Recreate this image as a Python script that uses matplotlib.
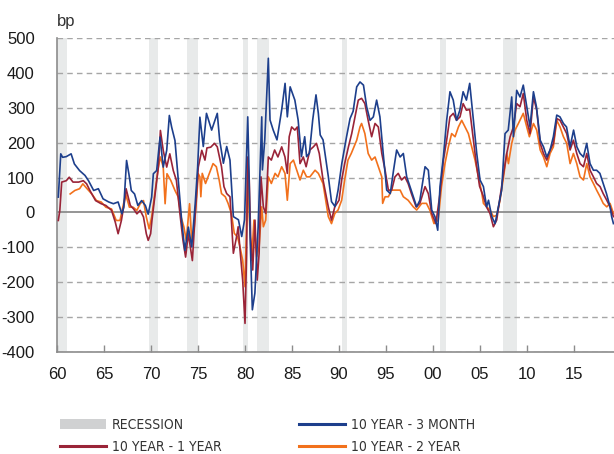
import matplotlib
matplotlib.use("Agg")
import matplotlib.pyplot as plt
from matplotlib.lines import Line2D
from matplotlib.patches import Patch
from matplotlib import font_manager

## Data (bp)

yrs_3m = [1960.14, 1960.4, 1960.6, 1960.99, 1961.5, 1961.85, 1962.4, 1962.98, 1963.35, 1963.9,
          1964.4, 1964.9, 1965.5, 1966.0, 1966.5, 1966.9, 1967.1, 1967.4, 1967.65, 1967.9,
          1968.25, 1968.6, 1969.0, 1969.4, 1969.7, 1970.07, 1970.25, 1970.6, 1970.96, 1971.3,
          1971.67, 1971.95, 1972.2, 1972.55, 1972.9, 1973.26, 1973.6, 1973.97, 1974.33, 1974.7,
          1974.96, 1975.2, 1975.56, 1975.9, 1976.45, 1977.05, 1977.3, 1977.7, 1978.05, 1978.4,
          1978.76, 1979.3, 1979.65, 1979.95, 1980.29, 1980.4, 1980.55, 1980.78, 1981.05, 1981.4,
          1981.78, 1981.85, 1982.1, 1982.48, 1982.66, 1983.0, 1983.4, 1983.9, 1984.26, 1984.5,
          1984.8, 1985.3, 1985.65, 1986.0, 1986.35, 1986.55, 1986.85, 1987.2, 1987.55, 1987.8,
          1988.0, 1988.3, 1988.86, 1989.2, 1989.57, 1989.9, 1990.3, 1990.8, 1991.17, 1991.5,
          1991.88, 1992.23, 1992.6, 1992.94, 1993.3, 1993.65, 1994.0, 1994.35, 1994.7, 1995.07,
          1995.45, 1995.8, 1996.13, 1996.5, 1996.84, 1997.2, 1997.55, 1997.9, 1998.26, 1998.6,
          1999.15, 1999.5, 1999.86, 2000.2, 2000.5, 2000.74, 2001.1, 2001.45, 2001.8, 2002.15,
          2002.5, 2002.85, 2003.2, 2003.55, 2003.9, 2004.3, 2004.65, 2005.0, 2005.36, 2005.7,
          2005.9, 2006.25, 2006.6, 2006.95, 2007.3, 2007.66, 2008.0, 2008.37, 2008.55, 2008.9,
          2009.25, 2009.6, 2009.97, 2010.32, 2010.68, 2011.0, 2011.4, 2011.75, 2012.1, 2012.45,
          2012.8, 2013.16, 2013.5, 2013.87, 2014.2, 2014.58, 2014.95, 2015.3, 2015.64, 2016.0,
          2016.35, 2016.7, 2017.06, 2017.4, 2017.75, 2018.1, 2018.45, 2018.83, 2019.0, 2019.19]
spr_3m = [44, 168, 158, 160, 168, 139, 120, 106, 91, 63,
          68, 39, 30, 25, 30, -4, 15, 149, 110, 63,
          53, 20, 34, 20, -5, 44, 111, 120, 216, 130,
          178, 278, 244, 206, 92, -23, -109, -42, -99, 25,
          130, 273, 189, 284, 236, 284, 208, 141, 189, 150,
          -12, -21, -69, -21, 274, 150, -80, -279, -231, -41,
          274, 122, 208, 442, 265, 236, 208, 294, 370, 274,
          360, 322, 265, 160, 217, 160, 170, 265, 337, 284,
          222, 208, 103, 31, 17, 64, 141, 217, 269, 290,
          360, 374, 365, 303, 264, 274, 322, 274, 169, 64,
          54, 121, 179, 159, 169, 102, 74, 45, 16, 35,
          131, 121, 7, -12, -51, 74, 159, 264, 346, 322,
          264, 293, 346, 322, 370, 264, 169, 93, 74, 16,
          35, -12, -32, 16, 64, 226, 236, 331, 217, 350,
          331, 365, 303, 245, 346, 303, 207, 188, 159, 179,
          217, 279, 274, 255, 245, 188, 236, 188, 169, 159,
          198, 140, 121, 121, 112, 83, 54, 16, -12, -32]

yrs_1y = [1960.14, 1960.3, 1960.5, 1960.99, 1961.3, 1961.7, 1962.3, 1962.8, 1963.15, 1963.5,
          1964.1, 1964.7, 1965.2, 1965.8, 1966.2, 1966.5, 1966.85, 1967.2, 1967.35, 1967.8,
          1968.15, 1968.5, 1968.85, 1969.2, 1969.5, 1969.7, 1969.96, 1970.1, 1970.4, 1970.78,
          1971.0, 1971.3, 1971.67, 1972.0, 1972.37, 1972.7, 1973.08, 1973.4, 1973.68, 1973.97,
          1974.4, 1974.7, 1975.03, 1975.4, 1975.74, 1975.95, 1976.35, 1976.75, 1977.05, 1977.5,
          1977.76, 1978.05, 1978.4, 1978.76, 1979.1, 1979.27, 1979.5, 1979.75, 1980.0, 1980.17,
          1980.28, 1980.45, 1980.6, 1980.82, 1981.06, 1981.3, 1981.5, 1981.7, 1981.95, 1982.2,
          1982.48, 1982.8, 1983.15, 1983.5, 1983.9, 1984.25, 1984.5, 1984.7, 1984.96, 1985.3,
          1985.56, 1985.85, 1986.2, 1986.5, 1986.9, 1987.27, 1987.6, 1987.9, 1988.3, 1988.86,
          1989.2, 1989.55, 1990.0, 1990.28, 1990.6, 1991.0, 1991.35, 1991.7, 1992.05, 1992.4,
          1992.75, 1993.1, 1993.47, 1993.83, 1994.18, 1994.55, 1994.9, 1995.25, 1995.6, 1995.95,
          1996.3, 1996.65, 1997.0, 1997.35, 1997.7, 1998.2, 1998.6, 1999.15, 1999.5, 1999.86,
          2000.3, 2000.74, 2001.1, 2001.45, 2001.8, 2002.16, 2002.5, 2002.87, 2003.2, 2003.55,
          2003.9, 2004.25, 2004.6, 2004.95, 2005.3, 2005.7, 2006.06, 2006.42, 2006.77, 2007.13,
          2007.5, 2007.84, 2008.2, 2008.55, 2008.9, 2009.25, 2009.6, 2009.97, 2010.32, 2010.68,
          2011.03, 2011.4, 2011.75, 2012.1, 2012.45, 2012.8, 2013.16, 2013.51, 2013.87, 2014.22,
          2014.58, 2014.93, 2015.29, 2015.64, 2016.0, 2016.35, 2016.7, 2017.06, 2017.4, 2017.77,
          2018.1, 2018.48, 2018.83, 2019.19]
spr_1y = [-23, 6, 87, 91, 101, 87, 87, 91, 82, 63,
          34, 25, 20, 6, -28, -61, -23, 34, 68, 20,
          10, -4, 6, -13, -61, -80, -61, -23, 44, 130,
          235, 178, 130, 168, 120, 92, -4, -80, -128, -61,
          -138, -4, 130, 178, 150, 185, 187, 198, 188, 131,
          74, 54, 45, -117, -70, -41, -117, -194, -318, -117,
          159, 93, -70, -165, -22, -194, -117, 102, 16, -3,
          159, 150, 179, 159, 188, 159, 112, 217, 245, 236,
          245, 140, 159, 131, 179, 188, 198, 169, 93, 16,
          -22, 16, 35, 93, 140, 188, 226, 274, 322, 327,
          312, 264, 217, 255, 245, 169, 121, 64, 64, 102,
          112, 93, 102, 83, 54, 16, 26, 74, 54, -3,
          -32, 54, 150, 207, 274, 284, 264, 274, 312, 293,
          295, 217, 140, 75, 50, 15, -3, -41, -22, 45,
          112, 169, 217, 245, 312, 303, 341, 264, 226, 331,
          293, 198, 169, 150, 179, 198, 269, 264, 245, 226,
          179, 207, 169, 140, 131, 169, 121, 102, 83, 74,
          54, 35, 16, -12]

yrs_2y = [1961.4, 1961.9, 1962.4, 1962.75, 1963.2, 1963.7, 1964.2, 1964.7, 1965.2, 1965.8,
          1966.3, 1966.7, 1967.0, 1967.3, 1967.7, 1968.1, 1968.5, 1968.85, 1969.2, 1969.5,
          1969.8, 1970.07, 1970.4, 1970.78, 1971.0, 1971.3, 1971.5, 1971.7, 1972.1, 1972.55,
          1972.9, 1973.2, 1973.5, 1973.75, 1974.1, 1974.33, 1974.6, 1974.86, 1975.03, 1975.2,
          1975.3, 1975.45, 1975.8, 1976.6, 1976.95, 1977.25, 1977.5, 1977.9, 1978.2, 1978.55,
          1978.86, 1979.2, 1979.46, 1979.75, 1980.0, 1980.17, 1980.28, 1980.45, 1980.7, 1980.95,
          1981.24, 1981.5, 1981.77, 1981.95, 1982.2, 1982.48, 1982.8, 1983.2, 1983.5, 1983.9,
          1984.25, 1984.5, 1984.8, 1985.15, 1985.5, 1985.85, 1986.2, 1986.55, 1986.9, 1987.45,
          1987.8, 1988.3, 1988.86, 1989.2, 1989.55, 1989.9, 1990.28, 1990.6, 1990.95, 1991.3,
          1991.88, 1992.23, 1992.4, 1992.75, 1993.1, 1993.47, 1993.83, 1994.18, 1994.55, 1994.64,
          1994.9, 1995.25, 1995.6, 1996.0, 1996.5, 1996.84, 1997.35, 1997.9, 1998.26, 1998.8,
          1999.3, 1999.65, 2000.1, 2000.55, 2000.9, 2001.27, 2001.63, 2001.98, 2002.34, 2002.7,
          2003.05, 2003.4, 2003.76, 2004.1, 2004.47, 2004.85, 2005.2, 2005.36, 2005.7, 2006.06,
          2006.42, 2006.77, 2007.13, 2007.5, 2007.84, 2008.02, 2008.37, 2008.72, 2009.08, 2009.6,
          2009.97, 2010.25, 2010.68, 2011.03, 2011.4, 2011.75, 2012.1, 2012.45, 2012.8, 2013.16,
          2013.51, 2013.87, 2014.22, 2014.58, 2014.93, 2015.29, 2015.64, 2016.0, 2016.35, 2016.7,
          2017.06, 2017.4, 2017.77, 2018.1, 2018.48, 2018.83, 2019.19]
spr_2y = [53, 63, 68, 82, 68, 53, 34, 30, 15, 10,
          -23, -23, 15, 53, 15, 15, 6, 25, 34, -13,
          -47, -13, 53, 130, 159, 130, 25, 111, 92, 63,
          44, -13, -42, -80, 25, -80, -42, 44, 111, 102,
          45, 112, 83, 140, 131, 93, 54, 45, 26, -3,
          -60, -70, -98, -137, -213, -22, 121, -12, -137, -22,
          -127, -98, 16, -41, -22, 102, 83, 112, 102, 131,
          112, 35, 140, 150, 121, 93, 121, 102, 102, 121,
          112, 83, -12, -32, -3, 7, 35, 93, 150, 169,
          207, 245, 255, 226, 169, 150, 159, 131, 102, 26,
          45, 45, 64, 64, 64, 45, 35, 16, 7, 26,
          26, 7, -32, -22, 74, 140, 188, 226, 217, 245,
          264, 245, 226, 190, 150, 100, 54, 26, 16, 7,
          -12, -8, 35, 102, 169, 140, 198, 236, 255, 284,
          245, 217, 255, 236, 179, 159, 131, 169, 188, 264,
          245, 217, 198, 140, 169, 140, 102, 93, 140, 102,
          83, 64, 45, 26, 16, 26, -3]

recessions = [(1960.0, 1961.05), (1969.8, 1970.72), (1973.8, 1975.03), (1979.82, 1980.29),
              (1981.31, 1982.59), (1990.29, 1990.85), (2000.74, 2001.38), (2007.48, 2008.9)]

yticks = list(range(-400, 501, 100))
xticks = [1960, 1965, 1970, 1975, 1980, 1985, 1990, 1995, 2000, 2005, 2010, 2015]
xlabels = ['60', '65', '70', '75', '80', '85', '90', '95', '00', '05', '10', '15']

c_3m = '#1d3f8c'
c_1y = '#9a2438'
c_2y = '#f2711c'
c_rec = '#e8eaea'

plt.rcParams['font.family'] = ['Liberation Sans', 'DejaVu Sans']
plt.rcParams['axes.unicode_minus'] = False

fig = plt.figure(figsize=(6.14, 4.54), dpi=100)
ax = fig.add_axes([57/614, (454-352)/454, (614-57)/614, 314/454])

for a, b in recessions:
    ax.axvspan(a, b, color=c_rec, lw=0, zorder=0)

for y in yticks:
    if y == 0:
        continue
    ax.axhline(y, color='#a6a6a6', lw=1.0, ls=(0, (4, 3)), zorder=1)
ax.axhline(0, color='#8c8c8c', lw=1.3, zorder=1)

ax.plot(yrs_2y, spr_2y, color=c_2y, lw=1.2, zorder=3)
ax.plot(yrs_1y, spr_1y, color=c_1y, lw=1.2, zorder=4)
ax.plot(yrs_3m, spr_3m, color=c_3m, lw=1.2, zorder=5)

ax.set_xlim(1960, 2019.25)
ax.set_ylim(-400, 500)
ax.set_yticks(yticks)
ax.set_xticks(xticks)
ax.set_xticklabels(xlabels)
ax.tick_params(axis='y', length=0, pad=16, labelsize=12, labelcolor='#1a1a1a')
ax.tick_params(axis='x', direction='in', length=5, width=1, color='#8c8c8c', pad=11,
               labelsize=12, labelcolor='#1a1a1a')
for s in ['top', 'right']:
    ax.spines[s].set_visible(False)
for s in ['left', 'bottom']:
    ax.spines[s].set_color('#8c8c8c')
    ax.spines[s].set_linewidth(1.2)

fig.text(57/614, 1 - 26/454, 'bp', fontsize=12, color='#333333', va='baseline')

## legend, two columns placed by hand
legfont = font_manager.FontProperties(family=['DejaVu Sans'], stretch='condensed', size=10)
h1 = [Patch(facecolor='#d0d1d2', edgecolor='none'),
      Line2D([], [], color=c_1y, lw=2.2)]
h2 = [Line2D([], [], color=c_3m, lw=2.2),
      Line2D([], [], color=c_2y, lw=2.2)]
kw = dict(loc='upper left', frameon=False, prop=legfont, borderpad=0, borderaxespad=0,
          handlelength=3.3, handletextpad=0.45, labelspacing=0.6, labelcolor='#333333')
l1 = fig.legend(h1, ['RECESSION', '10 YEAR - 1 YEAR'], bbox_to_anchor=(60/614, 1 - 418/454), **kw)
l2 = fig.legend(h2, ['10 YEAR - 3 MONTH', '10 YEAR - 2 YEAR'], bbox_to_anchor=(299/614, 1 - 418/454), **kw)

fig.savefig('out.png', dpi=100)
